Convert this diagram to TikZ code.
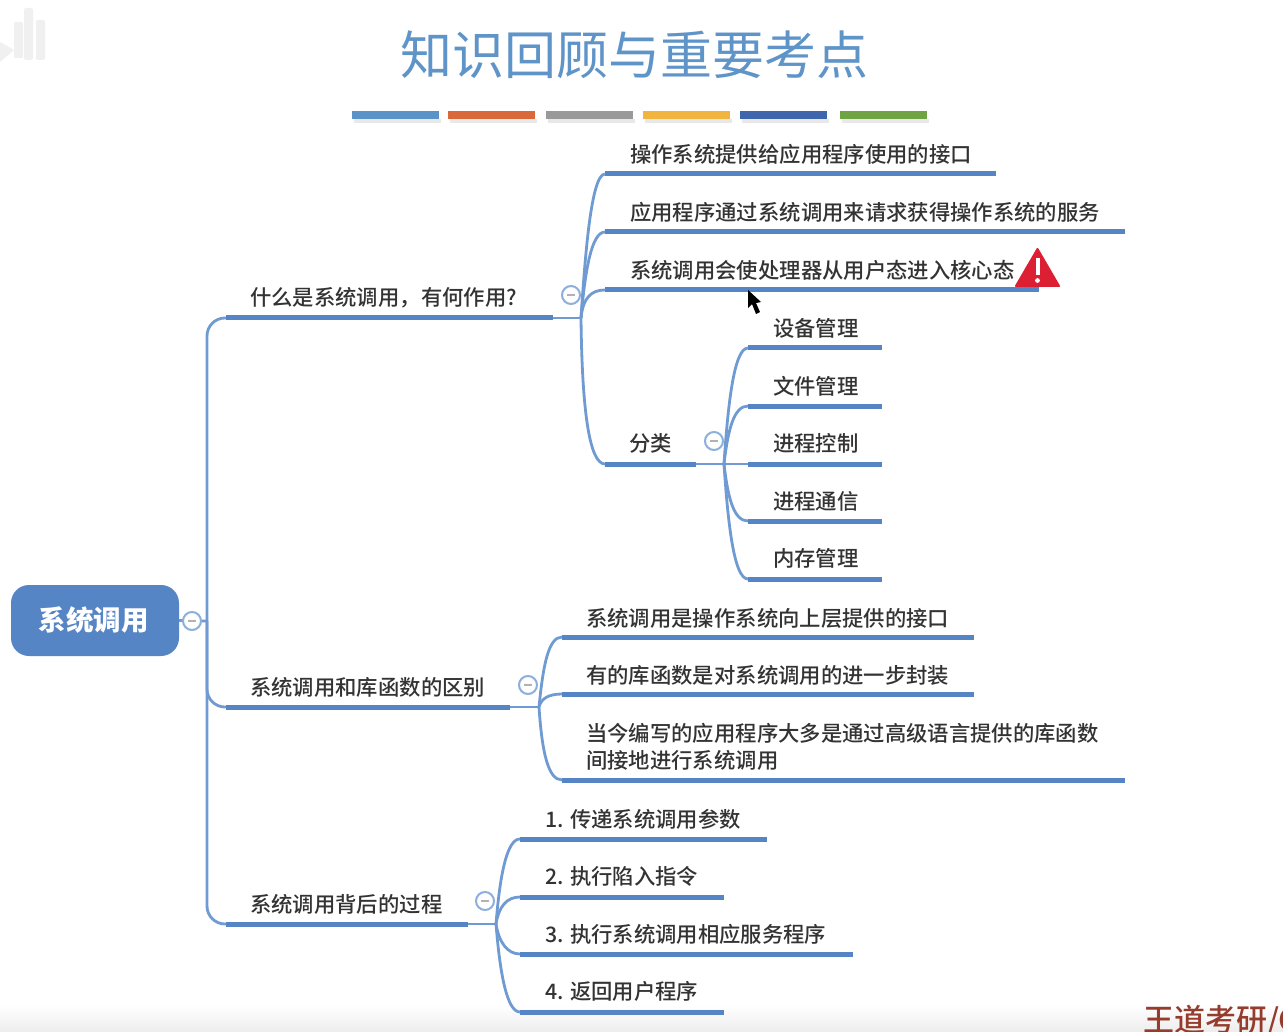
\documentclass[tikz,border=0pt]{standalone}
\usepackage{fontspec}
\setmainfont{Noto Sans CJK SC Medium}
\newfontfamily\titlefont{Noto Sans CJK SC}
\definecolor{mapblue}{HTML}{5585C4}
\definecolor{linkblue}{HTML}{6F9BD2}
\definecolor{titleblue}{HTML}{5F94C9}
\definecolor{inkgrey}{HTML}{333333}
\definecolor{warnred}{HTML}{DC1F32}
\begin{document}
\begin{tikzpicture}[x=1pt,y=-1pt,
bar/.style={mapblue,line width=5pt},
link/.style={linkblue,line width=2.8pt},
txt/.style={anchor=west,inner sep=0pt,text=inkgrey,font=\fontsize{21.35}{27}\selectfont,align=left},
fold/.style={circle,draw=linkblue!80,fill=white,line width=2pt,minimum size=18pt,inner sep=0pt,
  path picture={\draw[gray!60,line width=1.8pt] ([xshift=5pt]path picture bounding box.west) -- ([xshift=-5pt]path picture bounding box.east);}},
stripe/.style={line width=8pt},
shade line/.style={black!9,line width=4pt},
]
\useasboundingbox (0,0) rectangle (1283,1032);
\clip (0,0) rectangle (1283,1032);
\fill[white] (0,0) rectangle (1283,1032);
\shade[top color=white,bottom color=black!7] (0,1005) rectangle (1283,1032);
% watermark
\fill[black!6] (0,42) -- (14,50) -- (0,62) -- cycle;
\fill[black!6,rounded corners=2pt] (24,8) rectangle (33,60);
\fill[black!6,rounded corners=2pt] (14,22) rectangle (23,58);
\fill[black!6,rounded corners=2pt] (36,20) rectangle (45,60);
% title
\node[inner sep=0pt,text=titleblue,font=\titlefont\fontsize{52}{60}\selectfont] (title) at (634,55) {知识回顾与重要考点};
\draw[shade line] (354,121) -- (441,121);
\draw[shade line] (450,121) -- (537,121);
\draw[shade line] (548,121) -- (635,121);
\draw[shade line] (645,121) -- (732,121);
\draw[shade line] (742,121) -- (829,121);
\draw[shade line] (842,121) -- (929,121);
\draw[stripe,color={rgb,255:red,91;green,147;blue,200}] (352,115.5) -- (439,115.5);
\draw[stripe,color={rgb,255:red,217;green,105;blue,58}] (448,115.5) -- (535,115.5);
\draw[stripe,color={rgb,255:red,153;green,153;blue,153}] (546,115.5) -- (633,115.5);
\draw[stripe,color={rgb,255:red,241;green,181;blue,63}] (643,115.5) -- (730,115.5);
\draw[stripe,color={rgb,255:red,63;green,102;blue,173}] (740,115.5) -- (827,115.5);
\draw[stripe,color={rgb,255:red,111;green,163;blue,68}] (840,115.5) -- (927,115.5);
% root
\node[fill=mapblue,rounded corners=18pt,minimum width=168pt,minimum height=71pt,inner sep=0pt,text=white,font=\fontsize{27.5}{30}\selectfont\bfseries] (root) at (95,620.5) {\hspace*{-2pt}\raisebox{-4pt}{系统调用}};
% fork points
\coordinate (f0) at (207,621);
\coordinate (f1) at (581,318);
\coordinate (f2) at (539,707);
\coordinate (f3) at (496,924);
\coordinate (f4) at (724,464);
% first level
\node[txt] (a) at (250,298) {什么是系统调用，有何作用?};
\node[txt] (b) at (250,687) {系统调用和库函数的区别};
\node[txt] (c) at (250,904) {系统调用背后的过程};
\coordinate (a0) at (226,318); \coordinate (a1) at (553,318);
\coordinate (b0) at (226,707); \coordinate (b1) at (510,707);
\coordinate (c0) at (226,924); \coordinate (c1) at (468,924);
% second level, first topic
\node[txt] (a2) at (630,154) {操作系统提供给应用程序使用的接口};
\node[txt] (a3) at (630,212) {应用程序通过系统调用来请求获得操作系统的服务};
\node[txt] (a4) at (630,270) {系统调用会使处理器从用户态进入核心态};
\node[txt] (a5) at (629,443) {分类};
\coordinate (a20) at (605,174); \coordinate (a21) at (996,174);
\coordinate (a30) at (605,232); \coordinate (a31) at (1125,232);
\coordinate (a40) at (605,290); \coordinate (a41) at (1039,290);
\coordinate (a50) at (605,464); \coordinate (a51) at (696,464);
% kinds
\node[txt] (k1) at (773,328) {设备管理};
\node[txt] (k2) at (773,386) {文件管理};
\node[txt] (k3) at (773,443) {进程控制};
\node[txt] (k4) at (773,501) {进程通信};
\node[txt] (k5) at (773,558) {内存管理};
\coordinate (k10) at (748,348); \coordinate (k11) at (882,348);
\coordinate (k20) at (748,406); \coordinate (k21) at (882,406);
\coordinate (k30) at (748,464); \coordinate (k31) at (882,464);
\coordinate (k40) at (748,521); \coordinate (k41) at (882,521);
\coordinate (k50) at (748,579); \coordinate (k51) at (882,579);
% second level, second topic
\node[txt] (b2) at (586,618) {系统调用是操作系统向上层提供的接口};
\node[txt] (b3) at (586,675) {有的库函数是对系统调用的进一步封装};
\node[txt] (b4) at (586,747) {当今编写的应用程序大多是通过高级语言提供的库函数\\间接地进行系统调用};
\coordinate (b20) at (562,637); \coordinate (b21) at (974,637);
\coordinate (b30) at (562,694); \coordinate (b31) at (974,694);
\coordinate (b40) at (562,780); \coordinate (b41) at (1125,780);
% second level, third topic
\node[txt] (c2) at (545,819) {1. 传递系统调用参数};
\node[txt] (c3) at (545,876) {2. 执行陷入指令};
\node[txt] (c4) at (545,934) {3. 执行系统调用相应服务程序};
\node[txt] (c5) at (545,991) {4. 返回用户程序};
\coordinate (c20) at (520,839); \coordinate (c21) at (767,839);
\coordinate (c30) at (520,897); \coordinate (c31) at (724,897);
\coordinate (c40) at (520,954); \coordinate (c41) at (853,954);
\coordinate (c50) at (520,1012); \coordinate (c51) at (724,1012);
% connectors
\draw[link] (root.east) -- (f0);
\draw[link,rounded corners=18pt] (f0) |- (a0);
\draw[link,rounded corners=18pt] (f0) |- (b0);
\draw[link,rounded corners=18pt] (f0) |- (c0);
\draw[link] (a1) -- (f1);
\draw[link] (f1) .. controls +(4,-60) and +(-14,0) .. (a20);
\draw[link] (f1) .. controls +(4,-45) and +(-14,0) .. (a30);
\draw[link] (f1) .. controls +(2,-20) and +(-14,0) .. (a40);
\draw[link] (f1) .. controls +(1,90) and +(-16,0) .. (a50);
\draw[link] (a51) -- (k30);
\draw[link] (f4) .. controls +(4,-60) and +(-14,0) .. (k10);
\draw[link] (f4) .. controls +(4,-35) and +(-14,0) .. (k20);
\draw[link] (f4) .. controls +(4,35) and +(-14,0) .. (k40);
\draw[link] (f4) .. controls +(4,60) and +(-14,0) .. (k50);
\draw[link] (b1) -- (f2);
\draw[link] (f2) .. controls +(4,-40) and +(-14,0) .. (b20);
\draw[link] (f2) .. controls +(2,-8) and +(-14,0) .. (b30);
\draw[link] (f2) .. controls +(3,45) and +(-14,0) .. (b40);
\draw[link] (c1) -- (f3);
\draw[link] (f3) .. controls +(4,-50) and +(-13,0) .. (c20);
\draw[link] (f3) .. controls +(3,-18) and +(-13,0) .. (c30);
\draw[link] (f3) .. controls +(3,18) and +(-13,0) .. (c40);
\draw[link] (f3) .. controls +(4,50) and +(-13,0) .. (c50);
% underlines
\draw[bar] (a0) -- (a1);
\draw[bar] (b0) -- (b1);
\draw[bar] (c0) -- (c1);
\draw[bar] (a20) -- (a21);
\draw[bar] (a30) -- (a31);
\draw[bar] (a40) -- (a41);
\draw[bar] (a50) -- (a51);
\draw[bar] (k10) -- (k11);
\draw[bar] (k20) -- (k21);
\draw[bar] (k30) -- (k31);
\draw[bar] (k40) -- (k41);
\draw[bar] (k50) -- (k51);
\draw[bar] (b20) -- (b21);
\draw[bar] (b30) -- (b31);
\draw[bar] (b40) -- (b41);
\draw[bar] (c20) -- (c21);
\draw[bar] (c30) -- (c31);
\draw[bar] (c40) -- (c41);
\draw[bar] (c50) -- (c51);
% fold marks
\node[fold] (m0) at (192,621) {};
\node[fold] (m1) at (571,295) {};
\node[fold] (m2) at (528,685) {};
\node[fold] (m3) at (485,901) {};
\node[fold] (m4) at (714,441) {};
% warning sign
\fill[warnred,draw=warnred,line width=2pt,line join=round] (1016,286) -- (1037.5,249) -- (1059,286) -- cycle;
\fill[white] (1035.5,258) rectangle (1039.5,275);
\fill[white] (1037.5,280.5) circle (2.4);
% pointer
\fill[black] (748,290) -- (748,308) -- (752,304) -- (756,314) -- (760,312) -- (756,303) -- (761,302) -- cycle;
% corner mark
\node[anchor=west,inner sep=0pt,text={rgb,255:red,150;green,60;blue,45},font=\fontsize{31}{34}\selectfont] (mark) at (1143,1021) {王道考研/C};
\end{tikzpicture}
\end{document}
